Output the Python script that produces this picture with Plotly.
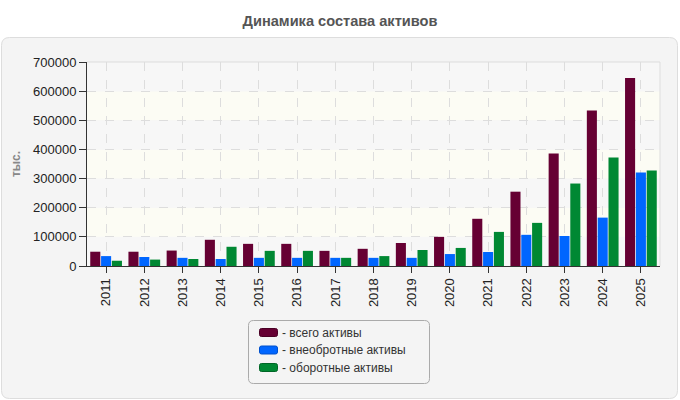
import plotly.graph_objects as go

years = [str(y) for y in range(2011, 2026)]
total = [49000, 49000, 53000, 90000, 76000, 76000, 52000, 59000, 79000, 100000, 162000, 255000, 386000, 534000, 645000]
noncurrent = [34000, 31000, 28000, 24000, 28000, 28000, 28000, 28000, 28000, 41000, 48000, 107000, 103000, 166000, 321000]
current = [18000, 22000, 24000, 66000, 52000, 52000, 28000, 34000, 55000, 62000, 117000, 148000, 283000, 372000, 328000]

series_names = ["- всего активы", "- внеобротные активы", "- оборотные активы"]
series_vals = [total, noncurrent, current]
series_colors = ["#660033", "#0066ff", "#008833"]
series_edges = ["#4a0025", "#0050cc", "#006626"]

fig = go.Figure()
for name, vals, col in zip(series_names, series_vals, series_colors):
    fig.add_trace(go.Bar(x=years, y=vals, name=name, showlegend=False,
                         marker=dict(color=col, line=dict(width=0))))

L, R, T, B = 87, 20, 62, 134
W, H = 680, 400
pw, ph = W - L - R, H - T - B
def px(x): return (x - L) / pw
def py(y): return (H - B - y) / ph

def rounded(xa, ya, xb, yb, r):
    x0, x1 = px(xa), px(xb)
    y1, y0 = py(ya), py(yb)
    rx, ry = r / pw, r / ph
    return (f"M {x0+rx},{y1} L {x1-rx},{y1} Q {x1},{y1} {x1},{y1-ry} L {x1},{y0+ry} Q {x1},{y0} {x1-rx},{y0} "
            f"L {x0+rx},{y0} Q {x0},{y0} {x0},{y0+ry} L {x0},{y1-ry} Q {x0},{y1} {x0+rx},{y1} Z")

shapes = []
shapes.append(dict(type="path", path=rounded(1.5, 37.5, 677.5, 398.5, 8), xref="paper", yref="paper",
                   fillcolor="#f4f4f4", line=dict(color="#dddddd", width=1), layer="below"))
for i in range(7):
    col = "#f7f7f7" if i % 2 == 0 else "#fcfcf4"
    shapes.append(dict(type="rect", xref="paper", yref="y", x0=0, x1=1, y0=i * 100000, y1=(i + 1) * 100000,
                       fillcolor=col, line=dict(width=0), layer="below"))
shapes.append(dict(type="line", xref="paper", yref="paper", x0=0, x1=1, y0=1, y1=1, line=dict(color="#dddddd", width=1)))
shapes.append(dict(type="line", xref="paper", yref="paper", x0=1, x1=1, y0=0, y1=1, line=dict(color="#dddddd", width=1)))

# custom legend
shapes.append(dict(type="path", path=rounded(248.5, 320.5, 429.5, 383.5, 5), xref="paper", yref="paper",
                   fillcolor="#f4f4f4", line=dict(color="#aaaaaa", width=1)))
annotations = []
item_y = [332.5, 350, 367.5]
for name, col, edge, yc in zip(series_names, series_colors, series_edges, item_y):
    shapes.append(dict(type="path", path=rounded(259.5, yc - 4, 277.5, yc + 4, 2), xref="paper", yref="paper",
                       fillcolor=col, line=dict(color=edge, width=1)))
    annotations.append(dict(text=name, xref="paper", yref="paper", x=px(280), y=py(yc), xanchor="left",
                            yanchor="middle", showarrow=False, font=dict(size=12, color="#333")))

fig.update_layout(
    width=W, height=H,
    margin=dict(l=L, r=R, t=T, b=B),
    paper_bgcolor="white", plot_bgcolor="rgba(0,0,0,0)",
    font=dict(family="Liberation Sans, Arial, sans-serif", size=12, color="#222"),
    title=dict(text="<b>Динамика состава активов</b>", x=0.5, xref="container", xanchor="center",
               yref="container", y=1 - 21 / H, yanchor="middle", font=dict(size=14.6, color="#555")),
    barmode="group", bargap=0.15, bargroupgap=0.07,
    shapes=shapes, annotations=annotations,
    showlegend=False,
    xaxis=dict(type="category", tickangle=-90, showgrid=True, gridcolor="#dddddd", griddash="dash",
               showline=True, linecolor="#333", linewidth=1, ticks="outside", ticklen=6, tickcolor="#333",
               tickfont=dict(size=13, color="#222")),
    yaxis=dict(range=[0, 700000], dtick=100000, tickformat="d", showgrid=True, gridcolor="#dddddd",
               griddash="dash", showline=True, linecolor="#333", linewidth=1, ticks="outside", ticklen=7,
               tickcolor="#333", zeroline=False, tickfont=dict(size=13, color="#222"),
               title=dict(text="<b>тыс.</b>", font=dict(size=12, color="#888"), standoff=9)),
)

fig.write_html("out.html")
